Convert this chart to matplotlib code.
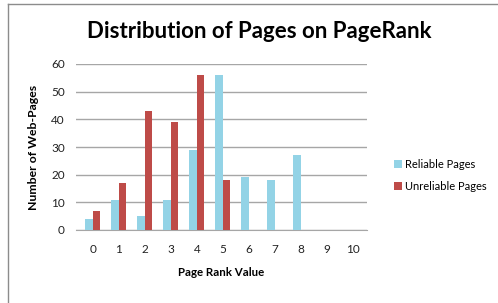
import matplotlib
matplotlib.use("Agg")
import matplotlib.pyplot as plt
from matplotlib.lines import Line2D
import numpy as np

categories = ["0", "1", "2", "3", "4", "5", "6", "7", "8", "9", "10"]
reliable = [4, 11, 5, 11, 29, 56, 19, 18, 27, 0, 0]
unreliable = [7, 17, 43, 39, 56, 18, 0, 0, 0, 0, 0]

plt.rcParams['font.family'] = ['Lato', 'DejaVu Sans']

W, H = 498, 303
fig = plt.figure(figsize=(W / 100, H / 100), dpi=100)
fig.patch.set_facecolor("white")

ax = fig.add_axes([76 / W, 1 - 230 / H, (367 - 76) / W, (230 - 64) / H])
x = np.arange(len(categories))
bw = 0.29
ax.bar(x - bw / 2, reliable, bw, color="#93d3e6", label="Reliable Pages", zorder=3)
ax.bar(x + bw / 2, unreliable, bw, color="#be4b48", label="Unreliable Pages", zorder=3)

ax.set_ylim(0, 60)
ax.set_yticks(range(0, 61, 10))
ax.set_xlim(-0.65, 10.55)
ax.set_xticks(x)
ax.set_xticklabels(categories)
ax.yaxis.grid(True, color="#a6a6a6", linewidth=1.0, zorder=0)
for s in ["top", "right", "left"]:
    ax.spines[s].set_visible(False)
ax.spines["bottom"].set_color("#a6a6a6")
ax.tick_params(axis="both", length=0, labelsize=8.5, colors="#222222")
ax.tick_params(axis="x", pad=10)
ax.tick_params(axis="y", pad=8)

ax.set_xlabel("Page Rank Value", fontsize=8.3, fontweight="bold", labelpad=9)
ax.set_ylabel("Number of Web-Pages", fontsize=8.8, fontweight="bold", labelpad=9)

fig.text(259 / W, 1 - 32 / H, "Distribution of Pages on PageRank", fontsize=16,
         fontweight="bold", ha="center", va="center")

leg = fig.legend(loc="upper left", bbox_to_anchor=(384 / W, 1 - 149 / H), frameon=False,
                 fontsize=8, handlelength=0.7, handleheight=0.7, handletextpad=0.3,
                 labelspacing=1.0)

fig.add_artist(Line2D([8 / W, 8 / W], [0, 1 - 4 / H], transform=fig.transFigure,
                      color="#8c8c8c", linewidth=1))
fig.add_artist(Line2D([8 / W, 1], [1 - 4 / H, 1 - 4 / H], transform=fig.transFigure,
                      color="#8c8c8c", linewidth=1))

fig.savefig("out.png", dpi=100)
